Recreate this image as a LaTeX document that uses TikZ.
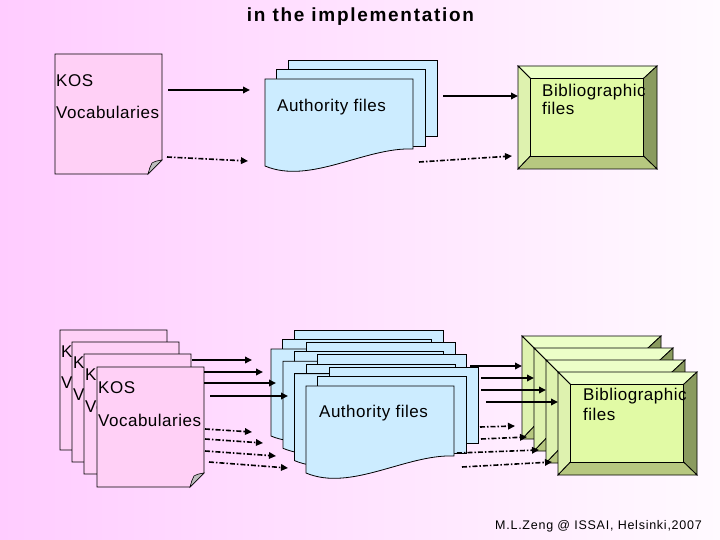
\documentclass[tikz,border=0pt]{standalone}
\usepackage{fontspec}
\setmainfont{Liberation Sans}
\newfontfamily\lblfont[LetterSpace=3]{Liberation Sans}
\newfontfamily\ttlfont[LetterSpace=9]{Liberation Sans}
\newfontfamily\ftrfont[LetterSpace=6]{Liberation Sans}
\usetikzlibrary{arrows.meta}
\definecolor{bgpink}{RGB}{255,204,255}
\definecolor{bgwhite}{RGB}{255,250,255}
\definecolor{kospink}{RGB}{255,208,246}
\definecolor{authblue}{RGB}{204,236,255}
\definecolor{bibface}{RGB}{225,250,165}
\definecolor{bibtop}{RGB}{236,255,200}
\definecolor{bibleft}{RGB}{222,242,175}
\definecolor{bibright}{RGB}{138,155,95}
\definecolor{bibbot}{RGB}{183,200,128}
\definecolor{foldgray}{RGB}{190,190,190}
\tikzset{
  outl/.style={draw=black, line width=0.8pt, line join=miter},
  authfill/.style={outl, fill=authblue},
  arrowsolid/.style={line width=2pt, -{Triangle[length=7pt,width=6.5pt]}},
  arrowdd/.style={line width=1.6pt, dash pattern=on 5pt off 2pt on 1.5pt off 2pt, -{Triangle[length=7pt,width=6.5pt]}},
  lbl/.style={inner sep=0pt, anchor=base west, font=\lblfont\fontsize{17}{20}\selectfont},
}
\newcommand\KosFront[5]{%
  \begin{scope}[shift={(#2,#3)}]
    \fill[kospink] (0,0) -- (107,0) -- (107,106) -- (93,120) -- (0,120) -- cycle;
    \draw[outl] (0,0) -- (107,0) -- (107,106) -- (93,120) -- (0,120) -- cycle;
    \path[outl, fill=foldgray, line width=0.6pt] (93,120) -- (107,106) .. controls (101,107) .. (97,109) .. controls (95,113) .. (93,120) -- cycle;
    \node[lbl] (#1k) at (1,#4) {KOS};
    \node[lbl] (#1v) at (1,#5) {Vocabularies};
  \end{scope}}
\newcommand\AuthStack[3]{%
  \begin{scope}[shift={(#2,#3)}]
    \draw[authfill] (23,-19) rectangle (172,57);
    \draw[authfill] (11.5,-9.5) rectangle (160.5,67);
    \draw[authfill] (0,0) -- (148,0) -- (148,70) .. controls (100,68) and (45,106) .. (0,87) -- cycle;
    \coordinate (#1) at (0,0);
  \end{scope}}
\newcommand\BibBox[3]{%
  \begin{scope}[shift={(#2,#3)}]
    \draw[outl, fill=bibtop] (0,0) -- (139,0) -- (125.5,12.5) -- (12.5,12.5) -- cycle;
    \draw[outl, fill=bibleft] (0,0) -- (12.5,12.5) -- (12.5,90) -- (0,103) -- cycle;
    \draw[outl, fill=bibright] (139,0) -- (139,103) -- (125.5,90) -- (125.5,12.5) -- cycle;
    \draw[outl, fill=bibbot] (0,103) -- (139,103) -- (125.5,90) -- (12.5,90) -- cycle;
    \draw[outl, fill=bibface] (12.5,12.5) rectangle (125.5,90);
    \coordinate (#1) at (0,0);
  \end{scope}}
\newcommand\Arr[6]{%
  \coordinate (#2a) at (#3,#4);
  \coordinate (#2b) at (#5,#6);
  \draw[#1] (#2a) -- (#2b);}
\begin{document}
\begin{tikzpicture}[x=1pt,y=-1pt]
\useasboundingbox (0,0) rectangle (720,540);
\shade[left color=bgpink, right color=bgwhite] (0,0) rectangle (720,540);
\node[font=\ttlfont\bfseries\fontsize{19}{22}\selectfont, anchor=base, inner sep=0pt] (title) at (360.5,22) {in the implementation};
% top row
\KosFront{kt}{55}{54}{33}{65}
\AuthStack{at}{265}{79}
\node[lbl] (atx) at (277,112) {Authority files};
\BibBox{bt}{518}{66}
\node[lbl] (bt1) at (542,97) {Bibliographic};
\node[lbl] (bt2) at (542,115) {files};
% bottom row
\KosFront{kb1}{60}{330}{27}{58}
\KosFront{kb2}{72}{342}{26}{58}
\KosFront{kb3}{84}{354}{26}{58}
\KosFront{kb4}{97}{367}{26}{59}
\AuthStack{ab1}{271}{349}
\AuthStack{ab2}{283}{361.3}
\AuthStack{ab3}{294.5}{373.6}
\AuthStack{ab4}{306}{386}
\node[lbl] (abx) at (319,417) {Authority files};
\BibBox{bb1}{522}{336}
\BibBox{bb2}{534}{348}
\BibBox{bb3}{546}{360}
\BibBox{bb4}{558}{372}
\node[lbl] (bb1t) at (583,400) {Bibliographic};
\node[lbl] (bb2t) at (583,420) {files};
% top arrows
\Arr{arrowsolid}{ts1}{168}{90}{250}{90}
\Arr{arrowdd}{td1}{167}{157}{248}{161}
\Arr{arrowsolid}{ts2}{443}{96}{518}{96}
\Arr{arrowdd}{td2}{419}{162}{512}{156}
% bottom arrows KOS -> authority
\Arr{arrowsolid}{bs1}{192}{360}{252}{360}
\Arr{arrowsolid}{bs2}{204}{372}{263}{372}
\Arr{arrowsolid}{bs3}{204}{383}{276}{383}
\Arr{arrowsolid}{bs4}{210}{396}{288}{396}
\Arr{arrowdd}{bd1}{205}{429}{252}{432}
\Arr{arrowdd}{bd2}{205}{439}{263}{443}
\Arr{arrowdd}{bd3}{205}{451}{276}{456}
\Arr{arrowdd}{bd4}{209}{462}{288}{468}
% bottom arrows authority -> bibliographic
\Arr{arrowsolid}{cs1}{470}{366}{522}{366}
\Arr{arrowsolid}{cs2}{481}{378}{534}{378}
\Arr{arrowsolid}{cs3}{481}{390}{546}{390}
\Arr{arrowsolid}{cs4}{486}{402}{558}{402}
\Arr{arrowdd}{cd1}{480}{427}{515}{426}
\Arr{arrowdd}{cd2}{481}{439}{527}{437}
\Arr{arrowdd}{cd3}{457}{453}{539}{450}
\Arr{arrowdd}{cd4}{462}{467}{552}{462}
\node[font=\ftrfont\fontsize{12.5}{15}\selectfont, anchor=base east, inner sep=0pt] (footer) at (702,529) {M.L.Zeng @ ISSAI, Helsinki,2007};
\end{tikzpicture}
\end{document}
